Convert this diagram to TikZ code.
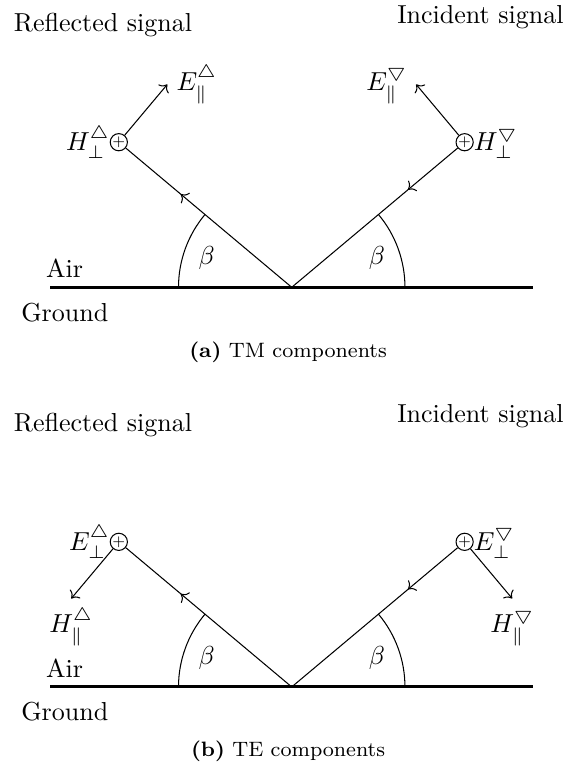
\documentclass[tikz,border=0pt]{standalone}
\usepackage{amsmath}
\usepackage{amssymb}
\usetikzlibrary{arrows.meta,positioning,decorations.markings}

\begin{document}
\begin{tikzpicture}[
      ground/.style={very thick},
      rayout/.style={decoration={markings, mark=at position 0.67 with {\arrow{>}}}, postaction={decorate}},
      rayin/.style={decoration={markings, mark=at position 0.30 with {\arrow{>}}}, postaction={decorate}},
      outof/.style={circle, draw, inner sep=0pt, minimum size=5.8pt, font=\tiny},
      fld/.style={->},
      lbl/.style={anchor=base}]
    \useasboundingbox (-3.942,-6.455) rectangle (3.964,3.882);
    % (a) TM components
    \coordinate (o1) at (0,0);
    \draw[ground] (-3.26,0) -- (3.26,0);
    \node[outof] (rx1) at (140:3.05) {$+$};
    \node[outof] (ix1) at (40:3.05) {$+$};
    \draw[rayout] (o1) -- (rx1);
    \draw[rayin] (ix1) -- (o1);
    \draw (1.53,0) arc (0:40:1.53);
    \draw (-1.53,0) arc (180:140:1.53);
    \node (b1) at (1.15,0.39) {$\beta$};
    \node (b2) at (-1.15,0.39) {$\beta$};
    \path (rx1) ++(50:1.02) coordinate (rt1);
    \path (ix1) ++(130:1.02) coordinate (it1);
    \draw[fld] (rx1) -- (rt1);
    \draw[fld] (ix1) -- (it1);
    \node[left] (hr1) at (rx1.center) {$H_{\perp}^{\triangle}$};
    \node[right] (hi1) at (ix1.center) {$H_{\perp}^{\bigtriangledown}$};
    \node[right] (er1) at (rt1) {$E_{\parallel}^{\triangle}$};
    \node[left] (ei1) at (it1) {$E_{\parallel}^{\bigtriangledown}$};
    \node[lbl] (refl1) at (-2.55,3.454) {Reflected signal};
    \node[lbl] (inc1) at (2.55,3.568) {Incident signal};
    \node[lbl] (air1) at (-3.07,0.13) {Air};
    \node[lbl] (gnd1) at (-3.066,-0.458) {Ground};
    \node[lbl, font=\footnotesize] (capa) at (-0.05,-0.946) {\textbf{(a)} TM components};
    % (b) TE components
    \begin{scope}[yshift=-5.4cm]
    \coordinate (o2) at (0,0);
    \draw[ground] (-3.26,0) -- (3.26,0);
    \node[outof] (rx2) at (140:3.05) {$+$};
    \node[outof] (ix2) at (40:3.05) {$+$};
    \draw[rayout] (o2) -- (rx2);
    \draw[rayin] (ix2) -- (o2);
    \draw (1.53,0) arc (0:40:1.53);
    \draw (-1.53,0) arc (180:140:1.53);
    \node (b3) at (1.15,0.39) {$\beta$};
    \node (b4) at (-1.15,0.39) {$\beta$};
    \path (rx2) ++(230:1.0) coordinate (rt2);
    \path (ix2) ++(310:1.0) coordinate (it2);
    \draw[fld] (rx2) -- (rt2);
    \draw[fld] (ix2) -- (it2);
    \node[left] (er2) at (rx2.center) {$E_{\perp}^{\triangle}$};
    \node[right] (ei2) at (ix2.center) {$E_{\perp}^{\bigtriangledown}$};
    \node[below] (hr2) at (rt2) {$H_{\parallel}^{\triangle}$};
    \node[below] (hi2) at (it2) {$H_{\parallel}^{\bigtriangledown}$};
    \node[lbl] (refl2) at (-2.55,3.454) {Reflected signal};
    \node[lbl] (inc2) at (2.55,3.568) {Incident signal};
    \node[lbl] (air2) at (-3.07,0.13) {Air};
    \node[lbl] (gnd2) at (-3.066,-0.458) {Ground};
    \node[lbl, font=\footnotesize] (capb) at (-0.05,-0.946) {\textbf{(b)} TE components};
    \end{scope}
\end{tikzpicture}
\end{document}
